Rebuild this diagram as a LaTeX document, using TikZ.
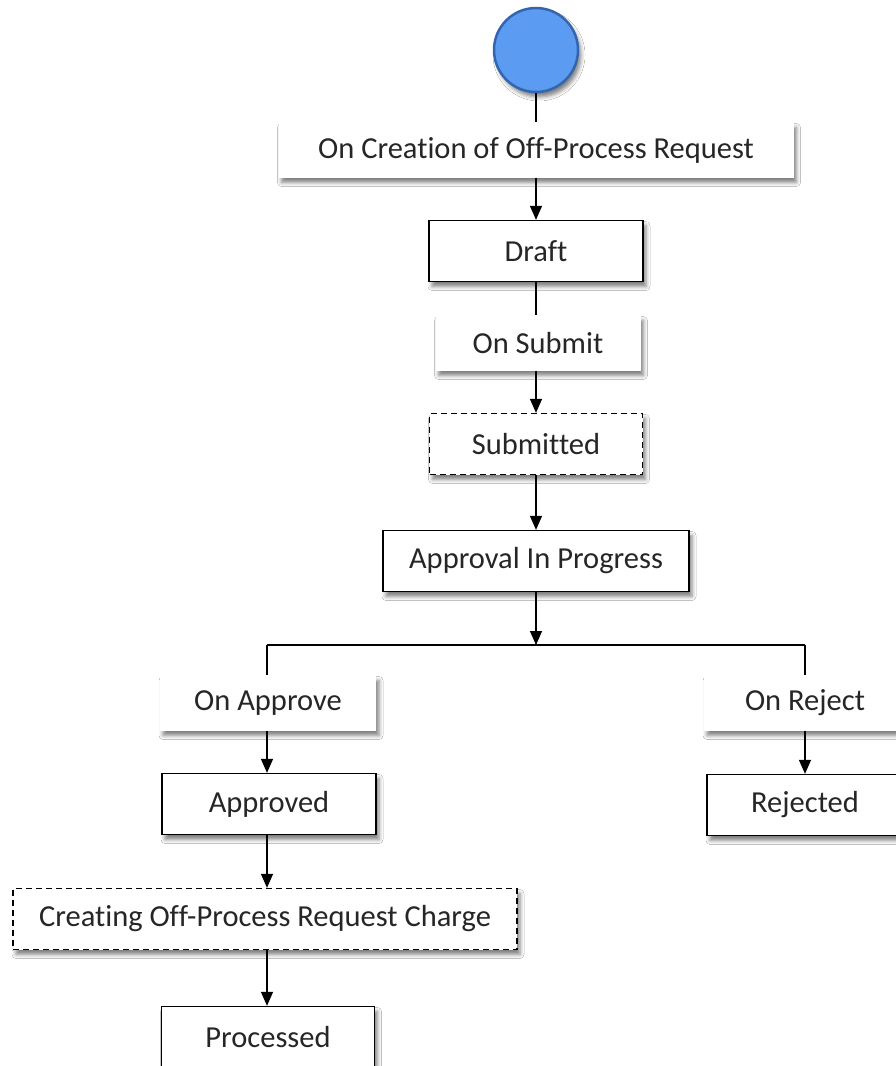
\documentclass[tikz,border=0pt]{standalone}
\usepackage{fontspec}
\setmainfont{Carlito}[Ligatures=NoCommon]
\usetikzlibrary{arrows.meta,shadows.blur}
\definecolor{startfill}{RGB}{92,155,242}
\definecolor{startdraw}{RGB}{52,102,176}
\begin{document}
\begin{tikzpicture}[x=1pt,y=1pt,
  every node/.style={font=\fontsize{30.5}{35}\selectfont, text=black!85},
  sh/.style={blur shadow={shadow xshift=3pt, shadow yshift=-5pt, shadow blur radius=4pt, shadow opacity=50}},
  state/.style={draw, line width=1.3pt, fill=white, sh, inner sep=0pt, minimum height=61pt},
  dstate/.style={state, dash pattern=on 6pt off 4pt},
  evt/.style={fill=white, sh, inner sep=0pt, minimum height=55pt},
  arr/.style={line width=1.3pt, -{Triangle[width=12pt,length=14pt]}},
  ln/.style={line width=1.3pt}]
\clip (0,0) rectangle (896,-1066);
\fill[white] (0,0) rectangle (896,-1066);

\node[circle, minimum size=84pt, inner sep=0pt, fill=startfill, draw=startdraw, line width=2.5pt, sh] (start) at (536,-50) {};
\node[evt, minimum width=515pt] (lab1) at (536,-150) {On Creation of Off-Process Request};
\node[state, minimum width=214pt] (draft) at (536,-251) {Draft};
\node[evt, minimum width=205pt] (lab2) at (538,-343) {On Submit};
\node[dstate, minimum width=213pt] (sub) at (536,-444) {Submitted};
\node[state, minimum width=306pt] (appr) at (536,-561) {Approval In Progress};
\coordinate (j) at (536,-645);
\coordinate (jl) at (267,-645);
\coordinate (jr) at (805,-645);
\node[evt, minimum width=216pt] (labA) at (268,-703) {On Approve};
\node[evt, minimum width=202pt] (labR) at (805,-703) {On Reject};
\node[state, minimum width=214pt] (approved) at (269,-804) {Approved};
\node[state, minimum width=196pt] (rejected) at (805,-805) {Rejected};
\node[dstate, minimum width=504pt] (create) at (265,-919) {Creating Off-Process Request Charge};
\node[state, minimum width=213pt] (proc) at (268,-1037) {Processed};

\draw[ln] (start.south) -- (start.south |- lab1.north);
\draw[arr] (lab1.south -| start) -- (draft.north);
\draw[ln] (draft.south) -- (draft.south |- lab2.north);
\draw[arr] (lab2.south -| draft) -- (sub.north);
\draw[arr] (sub.south) -- (appr.north);
\draw[arr] (appr.south) -- (j);
\draw[ln] (jl) -- (jr);
\draw[ln] (jl) -- (jl |- labA.north);
\draw[arr] (labA.south -| jl) -- (approved.north -| jl);
\draw[ln] (jr) -- (labR.north);
\draw[arr] (labR.south) -- (rejected.north);
\draw[arr] (approved.south -| jl) -- (create.north -| jl);
\draw[arr] (create.south -| jl) -- (proc.north -| jl);
\end{tikzpicture}
\end{document}
